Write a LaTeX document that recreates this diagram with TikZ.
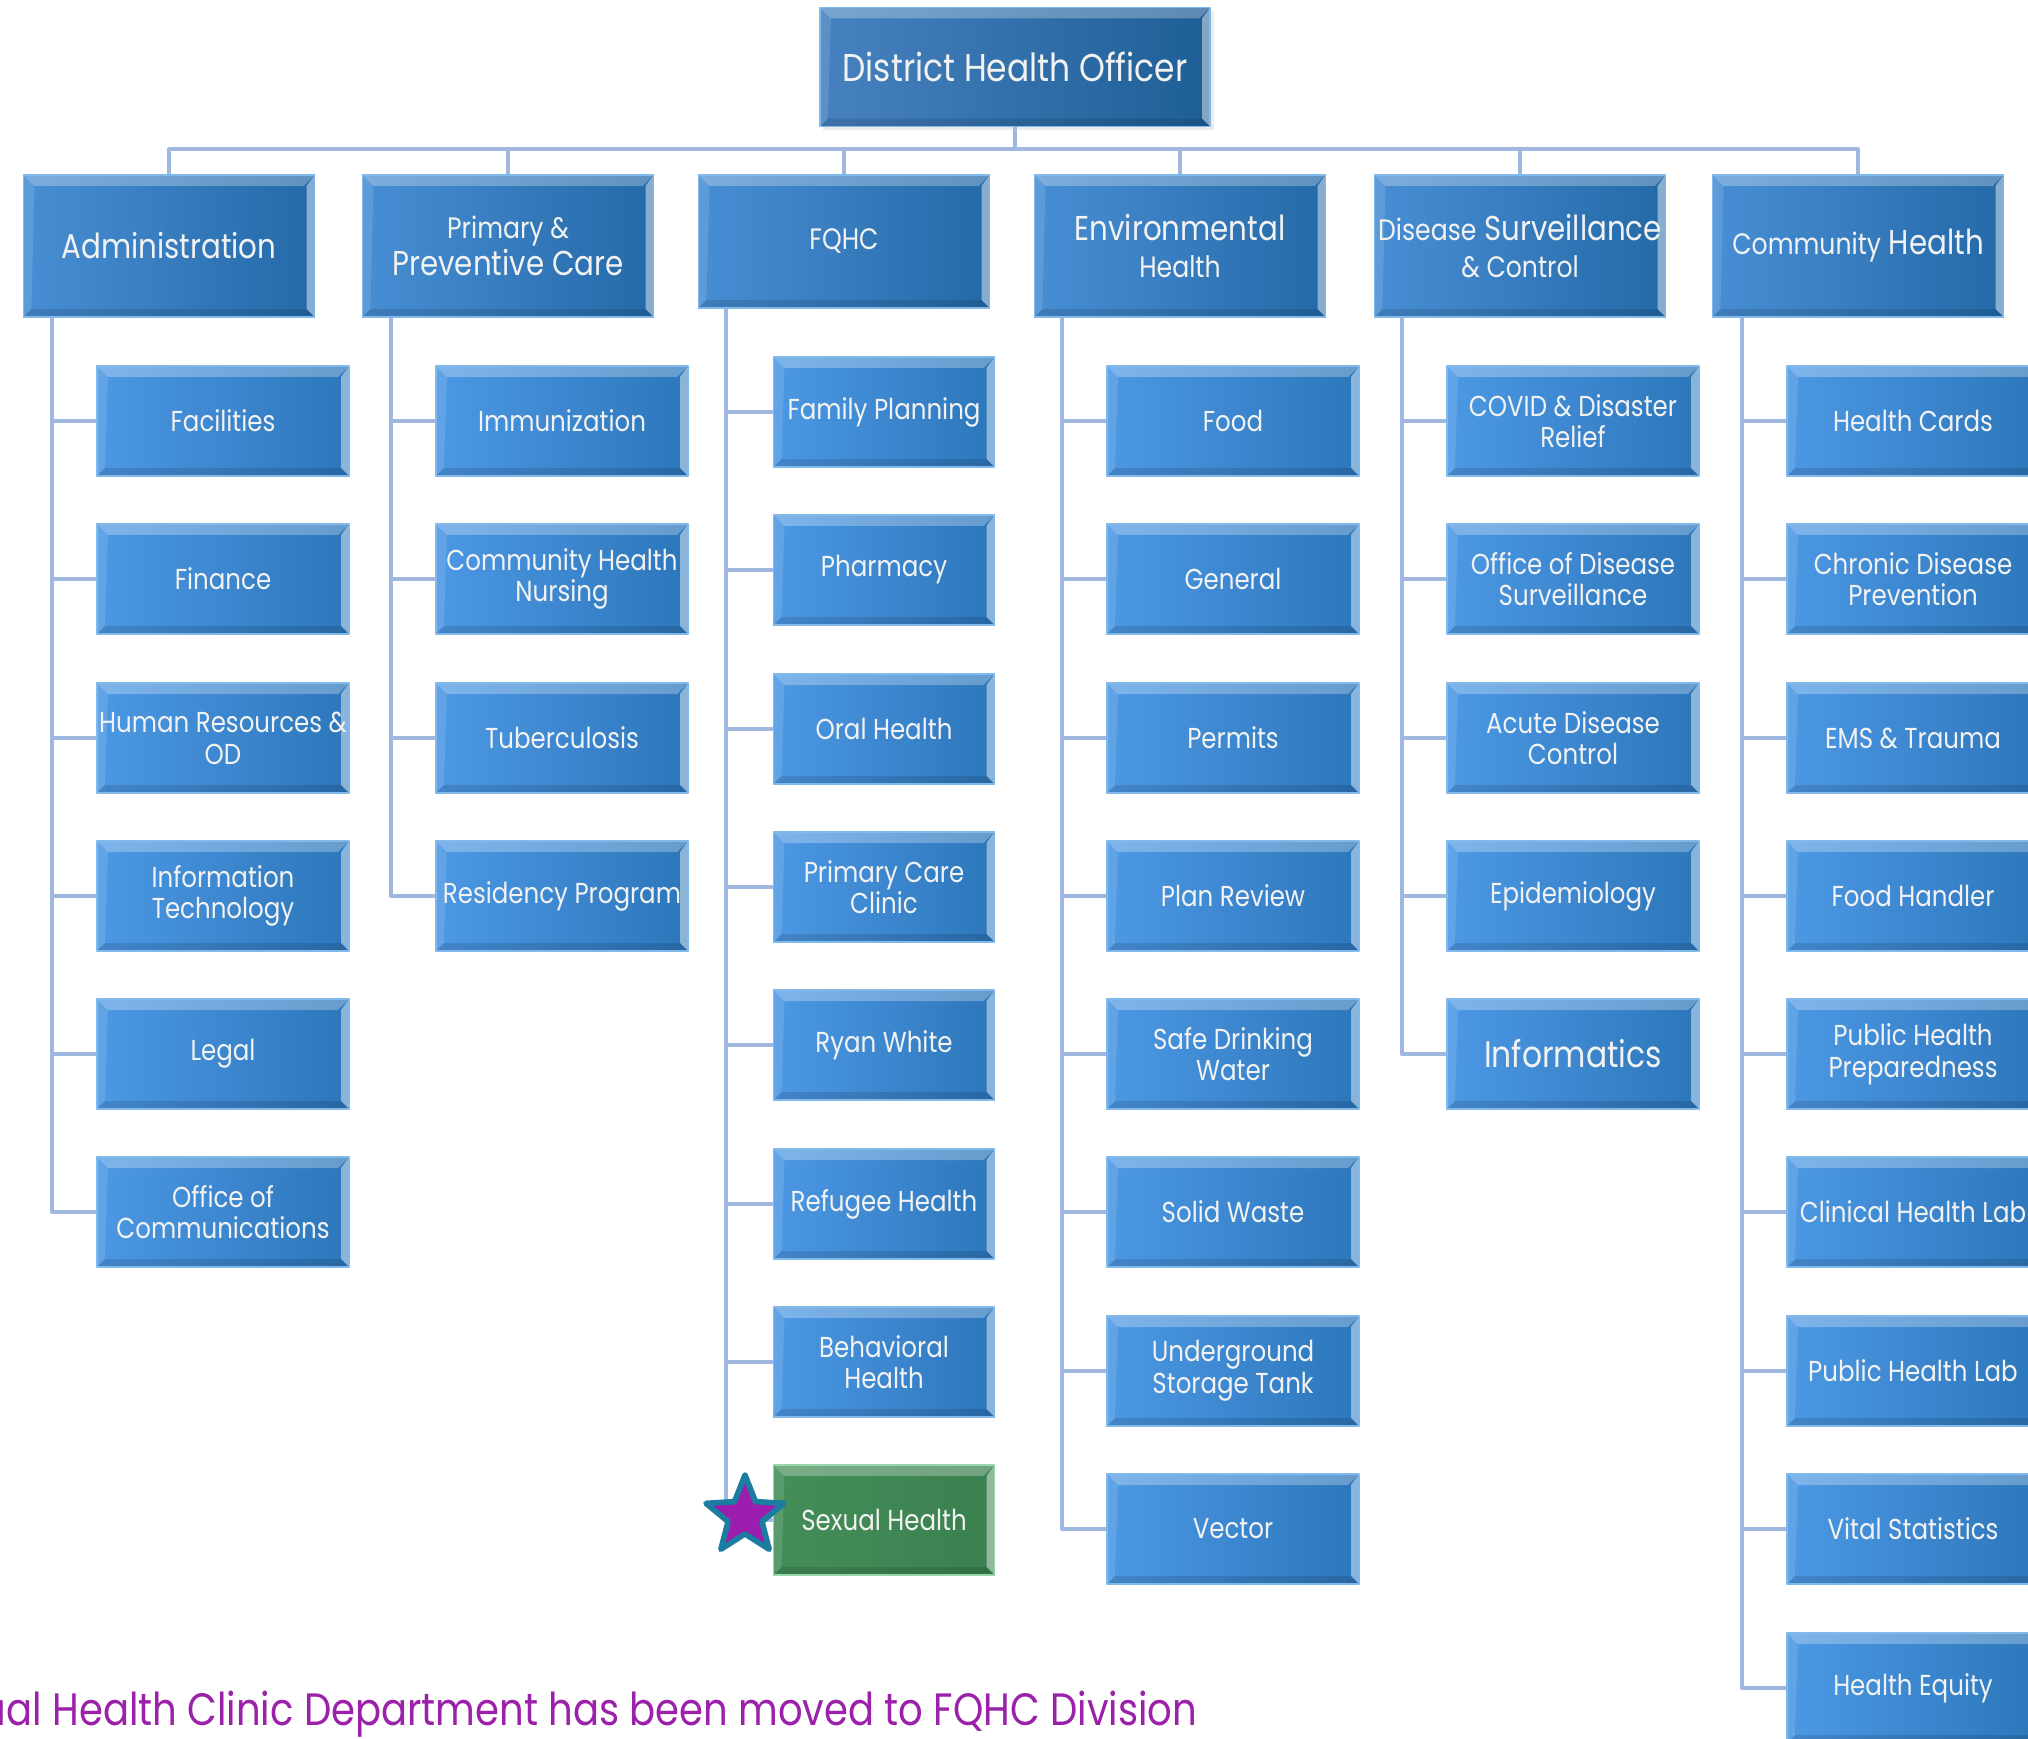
\documentclass[tikz,border=0pt]{standalone}
\usepackage{fontspec}
\setmainfont[FakeStretch=0.85]{Poppins}
\usetikzlibrary{positioning,shapes.geometric,shadows}

\definecolor{linkblue}{RGB}{160,184,224}
\definecolor{boxl}{RGB}{76,152,228}
\definecolor{boxr}{RGB}{44,118,186}
\definecolor{hdl}{RGB}{72,142,212}
\definecolor{hdr}{RGB}{36,106,168}
\definecolor{topl}{RGB}{70,130,192}
\definecolor{topr}{RGB}{30,94,150}
\definecolor{boxedge}{RGB}{130,185,235}
\definecolor{greenl}{RGB}{68,142,88}
\definecolor{greenr}{RGB}{58,128,80}
\definecolor{greenedge}{RGB}{150,215,170}
\definecolor{notepurple}{RGB}{155,32,170}
\definecolor{starfill}{RGB}{155,30,175}
\definecolor{staredge}{RGB}{28,125,160}
\definecolor{labeltext}{RGB}{242,242,242}

\newcommand{\hdsm}{\fontsize{8.4}{10}\selectfont}

\begin{document}
\begin{tikzpicture}[x=0.01cm,y=-0.01cm,line join=round,
  link/.style={draw=linkblue,line width=1.1pt},
  bevel/.style={path picture={
    \fill[white,opacity=.28] (path picture bounding box.north west) -- (path picture bounding box.north east)
      -- ([shift={(-1.1mm,-1.1mm)}]path picture bounding box.north east) -- ([shift={(1.1mm,-1.1mm)}]path picture bounding box.north west) -- cycle;
    \fill[white,opacity=.45] (path picture bounding box.north east) -- (path picture bounding box.south east)
      -- ([shift={(-.8mm,.8mm)}]path picture bounding box.south east) -- ([shift={(-.8mm,-1.1mm)}]path picture bounding box.north east) -- cycle;
    \fill[black,opacity=.12] (path picture bounding box.south west) -- (path picture bounding box.south east)
      -- ([shift={(-.8mm,.8mm)}]path picture bounding box.south east) -- ([shift={(.8mm,.8mm)}]path picture bounding box.south west) -- cycle;
    \fill[white,opacity=.12] (path picture bounding box.north west) -- (path picture bounding box.south west)
      -- ([shift={(.8mm,.8mm)}]path picture bounding box.south west) -- ([shift={(1.1mm,-1.1mm)}]path picture bounding box.north west) -- cycle;
  }},
  box/.style={bevel,draw=boxedge,line width=.4pt,left color=boxl,right color=boxr,
    text=labeltext,align=center,inner sep=0pt},
  chbox/.style={box,minimum width=2.52cm,minimum height=1.10cm,font=\fontsize{8.2}{9}\selectfont},
  fqbox/.style={chbox,minimum width=2.21cm},
  hdbox/.style={box,left color=hdl,right color=hdr,minimum width=2.91cm,minimum height=1.42cm,
    font=\fontsize{9.8}{10.5}\selectfont},
  topbox/.style={box,left color=topl,right color=topr,minimum width=3.9cm,minimum height=1.19cm,
    font=\fontsize{11}{13}\selectfont,drop shadow={opacity=.15,shadow xshift=.35mm,shadow yshift=-.35mm}},
  greenbox/.style={fqbox,draw=greenedge,left color=greenl,right color=greenr},
  hstar/.style={star,star points=5,star point ratio=2.3,minimum size=.82cm,inner sep=0pt,
    fill=starfill,draw=staredge,line width=1.6pt},
  note/.style={text=notepurple,font=\fontsize{12.9}{15}\selectfont,inner sep=0pt}]

\useasboundingbox (0,0) rectangle (2028,1738);

% top
\node[topbox] (dho) at (1015,67) {District Health Officer};

% divisions
\node[hdbox] (adm) at (169,246) {Administration};
\node[hdbox] (ppc) at (508,246) {{\hdsm Primary \&}\\Preventive Care};
\node[hdbox,minimum height=1.33cm] (fqhc) at (844,241.5) {{\hdsm FQHC}};
\node[hdbox] (env) at (1180,246) {Environmental\\{\hdsm Health}};
\node[hdbox] (dsc) at (1520,246) {{\hdsm Disease} Surveillance\\{\hdsm \& Control}};
\node[hdbox] (com) at (1858,246) {{\hdsm Community} Health};

\draw[link] (dho.south) -- ++(0,22) -| (adm.north);
\draw[link] (dho.south) -- ++(0,22) -| (ppc.north);
\draw[link] (dho.south) -- ++(0,22) -| (fqhc.north);
\draw[link] (dho.south) -- ++(0,22) -| (env.north);
\draw[link] (dho.south) -- ++(0,22) -| (dsc.north);
\draw[link] (dho.south) -- ++(0,22) -| (com.north);

% administration
\node[chbox] (fac) at (223,421) {Facilities};
\node[chbox] (fin) at (223,579) {Finance};
\node[chbox] (hr) at (223,738) {Human Resources \&\\OD};
\node[chbox] (it) at (223,896) {Information\\Technology};
\node[chbox] (leg) at (223,1054) {Legal};
\node[chbox] (ooc) at (223,1212) {Office of\\Communications};
\draw[link] ([xshift=.29cm]adm.south west) |- (fac.west);
\draw[link] ([xshift=.29cm]adm.south west) |- (fin.west);
\draw[link] ([xshift=.29cm]adm.south west) |- (hr.west);
\draw[link] ([xshift=.29cm]adm.south west) |- (it.west);
\draw[link] ([xshift=.29cm]adm.south west) |- (leg.west);
\draw[link] ([xshift=.29cm]adm.south west) |- (ooc.west);

% primary & preventive care
\node[chbox] (imm) at (562,421) {Immunization};
\node[chbox] (chn) at (562,579) {Community Health\\Nursing};
\node[chbox] (tb) at (562,738) {Tuberculosis};
\node[chbox] (res) at (562,896) {Residency Program};
\draw[link] ([xshift=.29cm]ppc.south west) |- (imm.west);
\draw[link] ([xshift=.29cm]ppc.south west) |- (chn.west);
\draw[link] ([xshift=.29cm]ppc.south west) |- (tb.west);
\draw[link] ([xshift=.29cm]ppc.south west) |- (res.west);

% fqhc
\node[fqbox] (fp) at (884,412) {Family Planning};
\node[fqbox] (pha) at (884,570) {Pharmacy};
\node[fqbox] (oh) at (884,729) {Oral Health};
\node[fqbox] (pcc) at (884,887) {Primary Care\\Clinic};
\node[fqbox] (rw) at (884,1045) {Ryan White};
\node[fqbox] (ref) at (884,1204) {Refugee Health};
\node[fqbox] (bh) at (884,1362) {Behavioral\\Health};
\node[greenbox] (sh) at (884,1520) {Sexual Health};
\draw[link] ([xshift=.28cm]fqhc.south west) |- (fp.west);
\draw[link] ([xshift=.28cm]fqhc.south west) |- (pha.west);
\draw[link] ([xshift=.28cm]fqhc.south west) |- (oh.west);
\draw[link] ([xshift=.28cm]fqhc.south west) |- (pcc.west);
\draw[link] ([xshift=.28cm]fqhc.south west) |- (rw.west);
\draw[link] ([xshift=.28cm]fqhc.south west) |- (ref.west);
\draw[link] ([xshift=.28cm]fqhc.south west) |- (bh.west);
\draw[link] ([xshift=.28cm]fqhc.south west) |- (sh.west);
\node[hstar] (mark) at (745,1516) {};

% environmental health
\node[chbox] (food) at (1233,421) {Food};
\node[chbox] (gen) at (1233,579) {General};
\node[chbox] (perm) at (1233,738) {Permits};
\node[chbox] (plan) at (1233,896) {Plan Review};
\node[chbox] (sdw) at (1233,1054) {Safe Drinking\\Water};
\node[chbox] (sw) at (1233,1212) {Solid Waste};
\node[chbox] (ust) at (1233,1371) {Underground\\Storage Tank};
\node[chbox] (vec) at (1233,1529) {Vector};
\draw[link] ([xshift=.28cm]env.south west) |- (food.west);
\draw[link] ([xshift=.28cm]env.south west) |- (gen.west);
\draw[link] ([xshift=.28cm]env.south west) |- (perm.west);
\draw[link] ([xshift=.28cm]env.south west) |- (plan.west);
\draw[link] ([xshift=.28cm]env.south west) |- (sdw.west);
\draw[link] ([xshift=.28cm]env.south west) |- (sw.west);
\draw[link] ([xshift=.28cm]env.south west) |- (ust.west);
\draw[link] ([xshift=.28cm]env.south west) |- (vec.west);

% disease surveillance & control
\node[chbox] (cov) at (1573,421) {COVID \& Disaster\\Relief};
\node[chbox] (ods) at (1573,579) {Office of Disease\\Surveillance};
\node[chbox] (adc) at (1573,738) {Acute Disease\\Control};
\node[chbox] (epi) at (1573,896) {Epidemiology};
\node[chbox,font=\fontsize{10.5}{12}\selectfont] (inf) at (1573,1054) {Informatics};
\draw[link] ([xshift=.28cm]dsc.south west) |- (cov.west);
\draw[link] ([xshift=.28cm]dsc.south west) |- (ods.west);
\draw[link] ([xshift=.28cm]dsc.south west) |- (adc.west);
\draw[link] ([xshift=.28cm]dsc.south west) |- (epi.west);
\draw[link] ([xshift=.28cm]dsc.south west) |- (inf.west);

% community health
\node[chbox] (hc) at (1913,421) {Health Cards};
\node[chbox] (cdp) at (1913,579) {Chronic Disease\\Prevention};
\node[chbox] (ems) at (1913,738) {EMS \& Trauma};
\node[chbox] (fh) at (1913,896) {Food Handler};
\node[chbox] (php) at (1913,1054) {Public Health\\Preparedness};
\node[chbox] (chl) at (1913,1212) {Clinical Health Lab};
\node[chbox] (phl) at (1913,1371) {Public Health Lab};
\node[chbox] (vs) at (1913,1529) {Vital Statistics};
\node[chbox] (he) at (1913,1688) {Health Equity};
\draw[link] ([xshift=.30cm]com.south west) |- (hc.west);
\draw[link] ([xshift=.30cm]com.south west) |- (cdp.west);
\draw[link] ([xshift=.30cm]com.south west) |- (ems.west);
\draw[link] ([xshift=.30cm]com.south west) |- (fh.west);
\draw[link] ([xshift=.30cm]com.south west) |- (php.west);
\draw[link] ([xshift=.30cm]com.south west) |- (chl.west);
\draw[link] ([xshift=.30cm]com.south west) |- (phl.west);
\draw[link] ([xshift=.30cm]com.south west) |- (vs.west);
\draw[link] ([xshift=.30cm]com.south west) |- (he.west);

\node[note,anchor=east] (moved) at (1198,1714) {Sexual Health Clinic Department has been moved to FQHC Division};
\end{tikzpicture}
\end{document}
